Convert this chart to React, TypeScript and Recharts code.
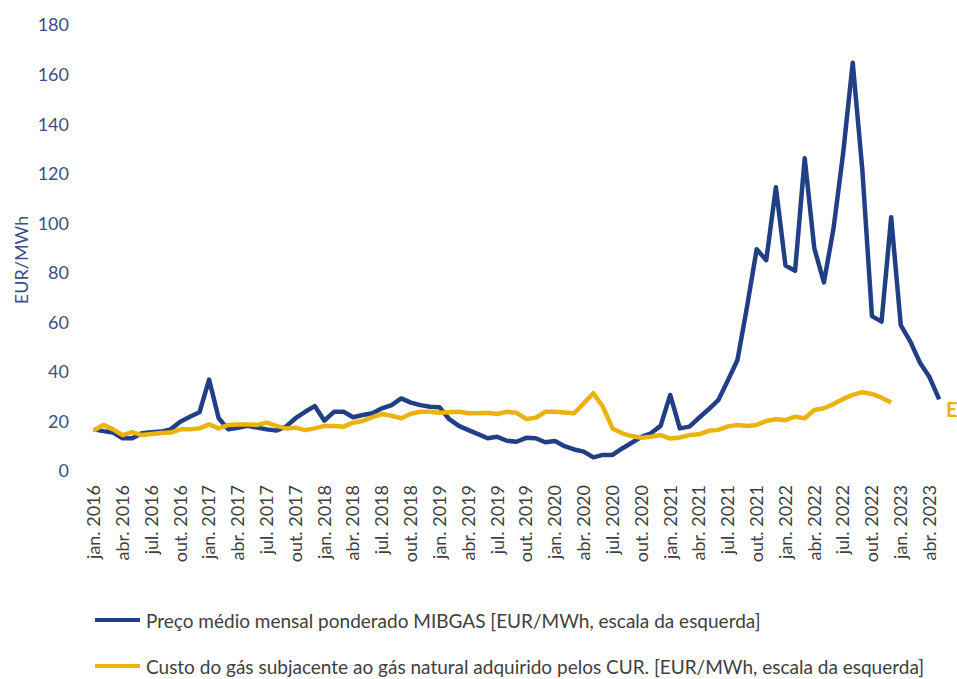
import React from 'react';
import { LineChart, Line, XAxis, YAxis } from 'recharts';

const monthAbbr = ['jan.', 'fev.', 'mar.', 'abr.', 'mai.', 'jun.', 'jul.', 'ago.', 'set.', 'out.', 'nov.', 'dez.'];
const years = [2016, 2017, 2018, 2019, 2020, 2021, 2022, 2023];

// jan. 2016 .. mai. 2023
const months: string[] = [];
years.forEach((y) => monthAbbr.forEach((m) => months.push(`${m} ${y}`)));
const categories = months.slice(0, 89);

const tickLabels = [
  'jan. 2016', 'abr. 2016', 'jul. 2016', 'out. 2016',
  'jan. 2017', 'abr. 2017', 'jul. 2017', 'out. 2017',
  'jan. 2018', 'abr. 2018', 'jul. 2018', 'out. 2018',
  'jan. 2019', 'abr. 2019', 'jul. 2019', 'out. 2019',
  'jan. 2020', 'abr. 2020', 'jul. 2020', 'out. 2020',
  'jan. 2021', 'abr. 2021', 'jul. 2021', 'out. 2021',
  'jan. 2022', 'abr. 2022', 'jul. 2022', 'out. 2022',
  'jan. 2023', 'abr. 2023',
];

const mibgas = [
  16.8, 16.1, 15.5, 13.2, 13.2, 15.2, 15.6, 15.9, 16.8, 19.9, 21.9, 23.7,
  36.9, 21.3, 16.8, 17.4, 18.2, 17.5, 16.8, 16.3, 17.9, 21.3, 23.9, 26.2,
  20.3, 23.9, 23.9, 21.7, 22.6, 23.3, 25.3, 26.6, 29.3, 27.6, 26.6, 25.9,
  25.7, 20.9, 18.2, 16.5, 14.9, 13.2, 13.8, 12.2, 11.8, 13.4, 13.2, 11.6,
  12.1, 10.0, 8.7, 7.8, 5.5, 6.5, 6.5, 9.1, 11.4, 13.8, 15.2, 18.2,
  30.7, 17.2, 17.9, 21.5, 24.9, 28.6, 36.5, 44.8, 66.3, 89.5, 85.1, 114.5,
  82.9, 80.8, 126.2, 89.9, 76.1, 97.9, 128.2, 164.8, 121.5, 62.5, 60.3, 102.4,
  58.9, 52.2, 43.7, 37.8, 28.9,
];

const custoCUR = [
  16.3, 18.6, 16.8, 14.5, 15.7, 14.5, 14.9, 15.3, 15.5, 16.8, 16.8, 17.2,
  18.8, 17.2, 18.6, 18.8, 18.8, 18.6, 19.5, 18.2, 17.2, 17.5, 16.5, 17.2,
  18.2, 18.2, 17.9, 19.5, 20.2, 21.7, 23.0, 22.3, 21.3, 23.1, 23.9, 23.9,
  23.5, 23.7, 23.9, 23.3, 23.3, 23.5, 23.0, 23.9, 23.5, 21.0, 21.5, 23.9,
  23.9, 23.6, 23.3, 27.3, 31.4, 25.9, 17.2, 15.2, 14.1, 13.4, 13.8, 14.5,
  13.1, 13.5, 14.5, 14.8, 16.2, 16.6, 18.0, 18.6, 18.2, 18.6, 20.2, 20.9,
  20.5, 21.9, 21.3, 24.6, 25.3, 27.0, 29.1, 30.7, 31.8, 31.1, 29.6, 27.6,
];

const yTicks = [0, 20, 40, 60, 80, 100, 120, 140, 160, 180];

const data = categories.map((label, i) => ({
  i,
  label,
  mibgas: mibgas[i],
  custo: custoCUR[i],
}));

const labelTicks = tickLabels.map((l) => categories.indexOf(l));
const boundaryTicks = labelTicks.map((t) => t - 0.5).concat([categories.length - 0.5]);

const BLUE = '#213f85';
const GOLD = '#ebb30d';
const AXIS_TEXT = '#3d4f86';
const FONT = 'Lato, "Open Sans", sans-serif';

const MonthTick = (props: any) => {
  const { x, y, payload } = props;
  return (
    <text
      x={x}
      y={y + 14}
      transform={`rotate(-90 ${x} ${y + 14})`}
      textAnchor="end"
      dy="0.35em"
      fill="#404040"
      fontSize={18}
      fontFamily={FONT}
    >
      {categories[payload.value]}
    </text>
  );
};

const LegendRow = ({ color, text }: { color: string; text: string }) => (
  <div style={{ display: 'flex', alignItems: 'center', height: 46 }}>
    <div style={{ width: 45, height: 4, background: color, marginRight: 6 }} />
    <span style={{ fontFamily: FONT, fontSize: 19, color: '#404040' }}>{text}</span>
  </div>
);

export default function App() {
  return (
    <div style={{ position: 'absolute', left: 0, top: 0, width: 957, height: 679, background: '#fff', overflow: 'hidden' }}>
      <LineChart width={957} height={679} data={data} margin={{ top: 25, right: 13, left: 0, bottom: 118 }}>
        <XAxis
          xAxisId="lines"
          type="number"
          dataKey="i"
          domain={[-0.5, categories.length - 0.5]}
          ticks={boundaryTicks}
          tick={false}
          tickSize={6}
          height={0}
          stroke="#d9d9d9"
          strokeWidth={1.5}
          allowDataOverflow
        />
        <XAxis
          xAxisId="labels"
          type="number"
          dataKey="i"
          domain={[-0.5, categories.length - 0.5]}
          ticks={labelTicks}
          tick={<MonthTick />}
          tickLine={false}
          axisLine={false}
          tickSize={0}
          tickMargin={0}
          height={90}
          interval={0}
          allowDataOverflow
        />
        <YAxis
          domain={[0, 180]}
          ticks={yTicks}
          width={89}
          axisLine={false}
          tickLine={false}
          tickSize={6}
          tickMargin={14}
          tick={{ fill: AXIS_TEXT, fontSize: 18, fontFamily: FONT }}
          label={{
            content: () => (
              <text
                x={28}
                y={260}
                transform="rotate(-90 28 260)"
                textAnchor="middle"
                fill={AXIS_TEXT}
                fontSize={18}
                fontFamily={FONT}
              >
                EUR/MWh
              </text>
            ),
          }}
        />
        <Line
          xAxisId="labels"
          type="linear"
          dataKey="mibgas"
          stroke={BLUE}
          strokeWidth={4.5}
          dot={false}
          strokeLinejoin="round"
          isAnimationActive={false}
        />
        <Line
          xAxisId="labels"
          type="linear"
          dataKey="custo"
          stroke={GOLD}
          strokeWidth={4.5}
          dot={false}
          strokeLinejoin="round"
          isAnimationActive={false}
        />
      </LineChart>
      <div style={{ position: 'absolute', left: 946, top: 397, fontFamily: FONT, fontWeight: 700, fontSize: 20, color: GOLD }}>
        E
      </div>
      <div style={{ position: 'absolute', left: 95, top: 597 }}>
        <LegendRow color={BLUE} text="Preço médio mensal ponderado MIBGAS [EUR/MWh, escala da esquerda]" />
        <LegendRow color={GOLD} text="Custo do gás subjacente ao gás natural adquirido pelos CUR. [EUR/MWh, escala da esquerda]" />
      </div>
    </div>
  );
}
